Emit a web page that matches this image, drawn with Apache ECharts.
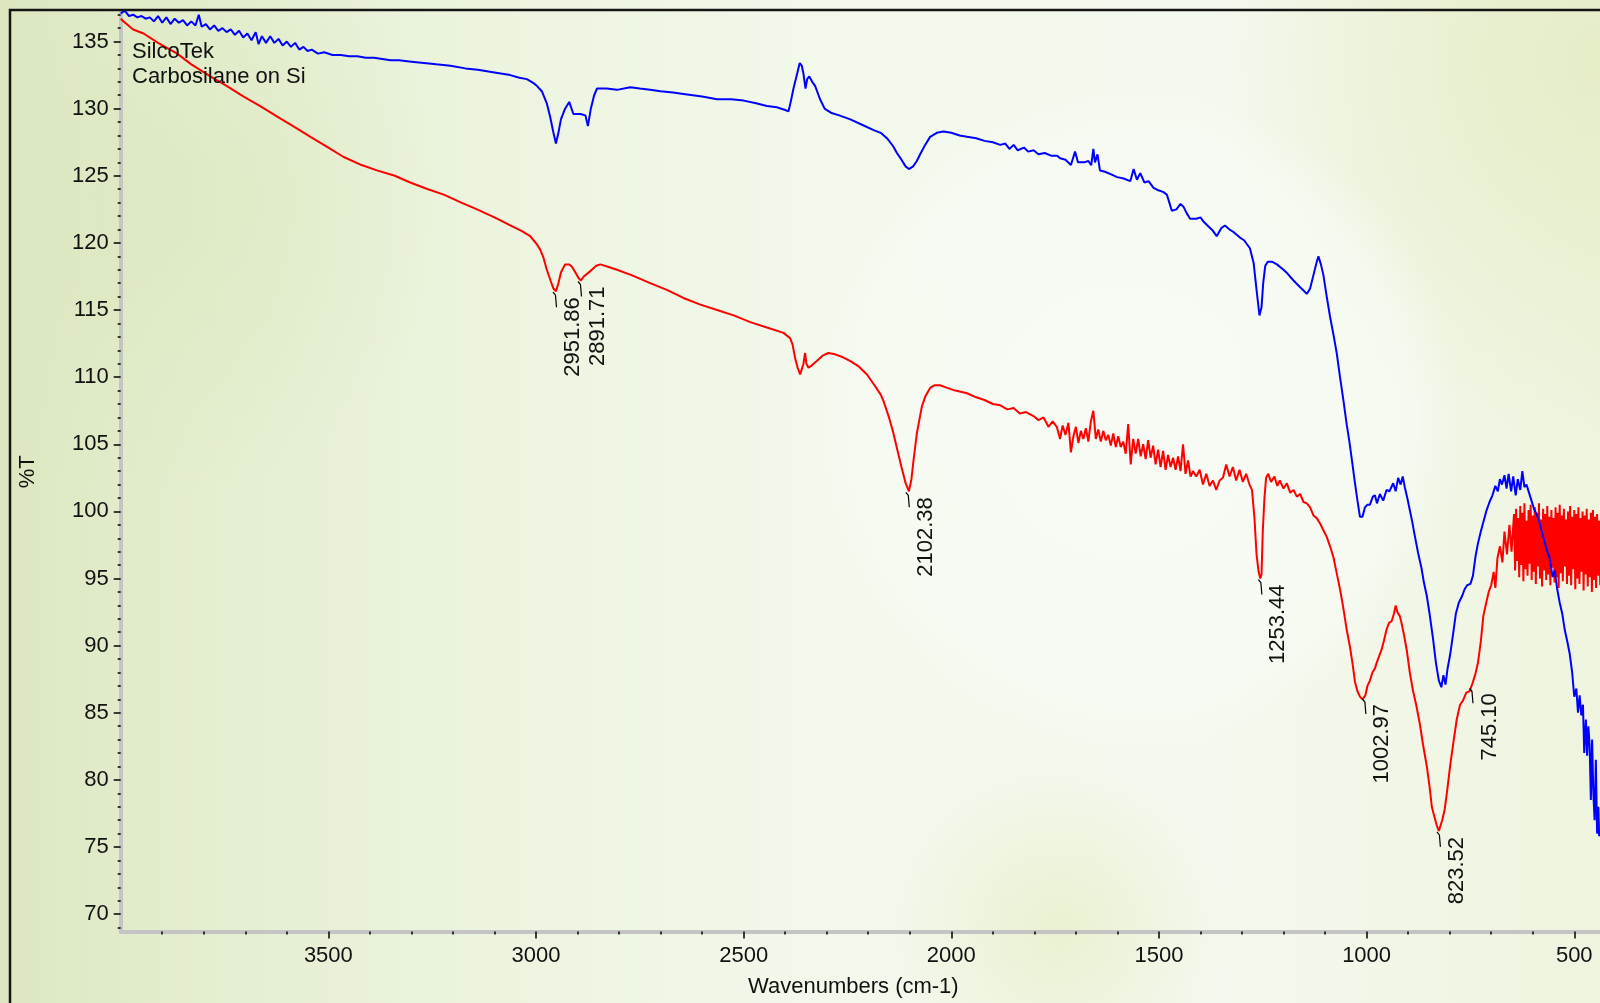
<!DOCTYPE html>
<html>
<head>
<meta charset="utf-8">
<script src="https://cdn.jsdelivr.net/npm/echarts@6/dist/echarts.min.js"></script>
<style>
html,body{margin:0;padding:0;background:#e6eed4;}
#chart{width:1600px;height:1003px;}
</style>
</head>
<body>
<div id="chart"></div>
<script>
// ---------- DATA ----------
const xAxisTitle = 'Wavenumbers (cm-1)';
const yAxisTitle = '%T';
const noteLines = ['SilcoTek', 'Carbosilane on Si'];
const xTickLabels = [500, 1000, 1500, 2000, 2500, 3000, 3500];
const yTickLabels = [70, 75, 80, 85, 90, 95, 100, 105, 110, 115, 120, 125, 130, 135];

// Blue spectrum
const blueWn = [4000,3990,3980,3970,3960,3950,3940,3930,3920,3910,3900,3890,3880,3870,3860,3850,3840,3830,3820,3812,3805,3795,3785,3775,3765,3755,3745,3735,3725,3715,3705,3695,3685,3675,3668,3660,3650,3640,3630,3620,3610,3600,3590,3580,3570,3560,3550,3540,3525,3510,3490,3470,3450,3430,3410,3390,3370,3350,3330,3300,3270,3240,3206,3170,3140,3100,3062,3040,3022,3006,2998,2986,2974,2966,2958,2952,2946,2940,2930,2920,2910,2893,2881,2875,2868,2860,2853,2830,2805,2773,2750,2725,2700,2670,2645,2600,2564,2530,2500,2470,2444,2420,2400,2392,2386,2380,2372,2365,2360,2356,2351,2347,2342,2335,2328,2316,2305,2290,2270,2243,2215,2187,2170,2155,2140,2131,2120,2110,2102,2092,2083,2075,2063,2051,2035,2019,2000,1980,1962,1940,1920,1900,1882,1870,1860,1850,1840,1825,1815,1802,1790,1775,1760,1745,1738,1725,1712,1702,1695,1680,1670,1663,1658,1654,1648,1642,1630,1615,1601,1585,1569,1561,1553,1545,1535,1525,1513,1500,1490,1481,1475,1469,1458,1448,1441,1433,1425,1410,1400,1393,1380,1370,1361,1350,1341,1330,1320,1305,1295,1281,1272,1265,1258,1253,1249,1244,1238,1228,1216,1200,1190,1176,1160,1150,1144,1136,1128,1120,1116,1110,1104,1096,1088,1080,1072,1064,1056,1048,1041,1034,1028,1022,1016,1010,1004,998,992,985,980,975,968,960,952,945,936,930,924,918,913,908,902,896,890,884,876,868,862,855,848,840,833,826,820,815,810,805,799,792,785,778,770,764,758,750,744,738,732,725,718,711,704,697,690,684,679,674,668,663,658,652,647,641,636,630,625,620,615,609,603,597,591,585,579,572,566,559,552,547,541,535,529,523,516,511,505,500,495,491,487,483,479,476,472,469,466,463,460,457,454,451,448,445,442,440];
const blueT = [137.1,137.3,136.9,137.0,136.8,136.9,136.7,136.8,136.5,136.9,136.4,136.8,136.3,136.7,136.4,136.6,136.2,136.5,136.2,137.0,136.1,136.3,135.9,136.2,135.8,136.0,135.7,135.9,135.5,135.8,135.3,135.6,135.1,135.7,134.8,135.4,134.9,135.4,134.9,135.2,134.7,135.0,134.6,134.9,134.4,134.6,134.3,134.4,134.1,134.2,134.0,134.0,133.9,133.9,133.8,133.8,133.7,133.6,133.6,133.5,133.4,133.3,133.2,133.0,132.9,132.7,132.5,132.3,132.2,131.9,131.7,131.3,130.4,129.4,128.2,127.4,128.2,129.2,130.0,130.5,129.6,129.6,129.5,128.7,130.0,131.0,131.5,131.5,131.4,131.6,131.5,131.4,131.3,131.2,131.1,130.9,130.7,130.7,130.6,130.4,130.2,130.1,129.9,129.8,130.6,131.5,132.5,133.4,133.2,132.6,131.5,132.2,132.4,132.0,131.7,130.7,130.0,129.7,129.5,129.2,128.8,128.4,128.2,127.8,127.2,126.7,126.2,125.7,125.5,125.7,126.1,126.6,127.3,127.9,128.2,128.3,128.2,128.0,127.9,127.8,127.6,127.5,127.3,127.4,127.0,127.3,126.9,127.1,126.8,126.9,126.6,126.7,126.5,126.5,126.3,126.2,125.8,126.8,126.0,126.0,126.1,125.8,127.0,126.0,126.6,125.4,125.3,125.1,124.9,124.8,124.6,125.5,124.7,125.2,124.5,124.6,124.1,123.9,123.8,123.6,123.0,122.4,122.5,122.9,122.7,122.2,121.8,121.8,121.9,121.6,121.2,120.9,120.5,121.1,121.3,121.0,120.8,120.4,120.2,119.6,118.5,116.5,114.6,115.2,117.0,118.3,118.6,118.6,118.4,118.0,117.7,117.2,116.7,116.4,116.2,116.6,117.6,118.6,119.0,118.4,117.6,116.0,114.5,113.2,111.8,110.0,108.3,106.5,105.1,103.5,102.1,100.8,99.6,99.6,100.3,100.5,100.5,101.1,101.2,100.6,101.3,100.8,101.6,101.5,102.1,101.5,102.5,102.0,102.6,101.8,101.0,100.1,99.2,98.2,96.9,95.8,94.7,93.7,92.3,90.5,88.7,87.4,86.9,87.8,87.1,88.3,89.3,90.8,92.4,93.2,93.7,94.2,94.5,94.6,95.2,96.6,97.6,98.5,99.3,100.1,100.7,101.2,101.9,101.5,102.4,102.0,102.7,101.7,102.8,101.5,102.6,101.2,102.4,101.6,103.0,101.8,102.0,101.4,100.8,100.2,99.8,99.3,98.6,97.8,97.1,96.5,95.1,95.6,94.2,93.2,92.4,91.2,90.2,89.4,88.0,86.2,86.8,85.0,86.3,84.8,85.6,82.0,84.5,81.8,84.0,82.6,78.5,83.0,79.0,77.0,81.5,76.0,78.0,75.8];

// Red spectrum (4000 -> 651)
const redWn = [4000,3993,3970,3945,3910,3864,3830,3784,3745,3704,3665,3623,3580,3543,3500,3463,3420,3383,3340,3303,3260,3222,3180,3142,3100,3062,3035,3014,2998,2990,2982,2974,2965,2958,2952,2946,2940,2930,2920,2913,2905,2898,2892,2885,2869,2855,2845,2825,2805,2770,2725,2685,2645,2604,2564,2524,2484,2444,2404,2388,2382,2376,2370,2364,2360,2356,2352,2349,2344,2335,2324,2310,2296,2280,2262,2243,2223,2203,2185,2170,2163,2150,2140,2130,2120,2110,2102,2096,2091,2083,2077,2071,2062,2051,2040,2027,2010,1990,1962,1940,1920,1900,1882,1865,1850,1835,1820,1802,1790,1778,1766,1756,1746,1738,1732,1725,1718,1712,1706,1700,1694,1688,1682,1676,1670,1664,1658,1652,1646,1640,1634,1628,1622,1616,1610,1604,1598,1592,1586,1580,1574,1568,1562,1556,1550,1544,1538,1532,1526,1520,1514,1508,1502,1496,1490,1484,1478,1472,1466,1460,1454,1448,1442,1436,1430,1424,1418,1410,1402,1394,1386,1378,1370,1362,1354,1346,1338,1330,1322,1314,1306,1298,1290,1282,1276,1270,1265,1260,1256,1253,1250,1246,1242,1237,1230,1222,1215,1209,1200,1192,1184,1176,1168,1160,1152,1144,1136,1128,1120,1112,1104,1096,1088,1080,1072,1064,1056,1048,1040,1034,1028,1022,1016,1010,1003,998,992,986,980,976,970,964,958,952,946,940,934,930,926,920,916,910,903,896,888,880,872,864,855,848,843,837,831,826,823,818,812,806,799,791,783,775,768,760,752,745,738,732,725,719,712,706,700,694,690,685,679,673,668,662,656,651];
const redT = [136.7,136.5,135.9,135.6,134.9,134.1,133.3,132.4,131.7,130.9,130.2,129.4,128.6,127.9,127.1,126.4,125.8,125.4,125.0,124.5,124.0,123.6,123.0,122.5,121.9,121.3,120.9,120.5,119.9,119.5,118.9,118.0,117.2,116.6,116.4,117.0,117.8,118.4,118.4,118.2,117.8,117.4,117.2,117.5,117.9,118.3,118.4,118.2,118.0,117.6,117.0,116.5,115.9,115.4,115.0,114.6,114.1,113.7,113.3,112.9,112.4,111.4,110.7,110.2,110.6,111.0,111.8,111.0,110.7,110.9,111.2,111.6,111.8,111.7,111.5,111.2,110.8,110.2,109.4,108.7,108.2,107.0,105.9,104.6,103.3,102.1,101.5,102.4,103.8,105.8,106.8,107.8,108.6,109.2,109.4,109.4,109.2,109.0,108.8,108.5,108.3,108.0,107.9,107.6,107.7,107.3,107.4,107.1,106.8,107.0,106.3,106.7,106.3,105.4,106.4,105.7,106.6,104.4,105.6,106.3,105.1,106.0,105.4,106.2,105.2,106.7,107.5,105.4,106.1,105.2,106.0,105.3,105.7,104.9,105.8,104.8,105.6,104.8,105.2,104.3,106.5,103.5,105.4,104.3,105.4,104.1,105.0,103.9,105.3,104.0,104.9,103.5,104.6,103.3,104.5,103.1,104.2,103.3,104.0,103.1,104.1,103.0,105.0,102.8,103.8,102.6,103.0,102.6,103.1,102.0,102.8,101.9,102.3,101.6,102.3,102.5,103.5,102.6,103.3,102.3,103.1,102.2,102.8,102.0,101.6,99.5,96.8,95.5,95.0,95.3,98.5,101.0,102.5,102.8,102.2,102.6,101.9,102.3,101.7,102.1,101.4,101.6,101.1,101.3,100.7,100.6,100.3,99.7,99.5,99.1,98.6,98.1,97.4,96.6,95.4,94.2,92.8,91.2,89.9,88.7,87.3,86.6,86.2,86.0,86.3,87.0,87.4,88.0,88.3,88.7,89.2,89.7,90.4,91.2,91.7,91.8,92.4,93.0,92.5,92.2,91.7,90.8,89.6,88.0,86.6,85.5,84.2,82.6,81.0,79.4,78.0,77.3,76.6,76.2,76.3,77.0,77.8,79.2,81.0,82.8,84.5,85.6,85.9,86.5,86.6,87.2,87.9,88.7,90.3,92.2,93.2,94.0,94.5,95.5,94.3,96.5,97.4,96.2,98.5,96.8,99.0,97.0];
// Red spectrum, dense noisy band (645 -> 437.5)
const redBandWn = [645,642.5,640,637.5,635,632.5,630,627.5,625,622.5,620,617.5,615,612.5,610,607.5,605,602.5,600,597.5,595,592.5,590,587.5,585,582.5,580,577.5,575,572.5,570,567.5,565,562.5,560,557.5,555,552.5,550,547.5,545,542.5,540,537.5,535,532.5,530,527.5,525,522.5,520,517.5,515,512.5,510,507.5,505,502.5,500,497.5,495,492.5,490,487.5,485,482.5,480,477.5,475,472.5,470,467.5,465,462.5,460,457.5,455,452.5,450,447.5,445,442.5,440,437.5];
const redBandT = [99.8,95.6,100.2,96.3,99.5,95.1,100.4,96.0,99.9,94.8,100.6,95.7,99.3,95.2,100.1,96.1,100.5,94.9,99.7,95.5,100.3,94.6,99.9,95.9,100.6,95.0,99.4,94.4,100.2,95.6,99.8,94.9,100.4,95.3,99.6,94.5,100.1,95.8,99.5,94.7,100.3,95.1,99.9,94.3,100.5,95.4,99.7,94.8,100.2,95.9,99.4,94.6,100.0,95.2,100.4,94.5,99.6,95.7,100.1,94.2,99.8,95.0,100.3,94.6,99.5,95.5,100.0,94.1,99.7,95.3,100.2,94.4,99.4,95.1,99.9,94.0,100.1,94.9,99.6,94.3,99.8,95.2,99.3,94.5];

// Annotated peaks on the red spectrum
const peakLabels = ['2951.86', '2891.71', '2102.38', '1253.44', '1002.97', '823.52', '745.10'];
const peakWn = [2951.86, 2891.71, 2102.38, 1253.44, 1002.97, 823.52, 745.10];
const peakT = [116.4, 117.2, 101.5, 95.0, 86.1, 76.2, 86.9];

// ---------- CHART ----------
const FONT = '"Liberation Sans", Arial, Helvetica, sans-serif';
const zip = (a, b) => a.map((v, i) => [v, b[i]]);
const xMinor = []; for (let v = 500; v <= 3900; v += 100) xMinor.push(v);
const yMinor = []; for (let v = 69; v <= 137; v += 1) yMinor.push(v);

const chart = echarts.init(document.getElementById('chart'), null, {renderer: 'canvas'});
const X_MIN = 438, X_MAX = 4000, Y_MIN = 68.7, Y_MAX = 137.2;

const axisBandColor = '#c4c4c4';
const xCommon = {type: 'value', inverse: true, min: X_MIN, max: X_MAX, splitLine: {show: false}};
const yCommon = {type: 'value', min: Y_MIN, max: Y_MAX, splitLine: {show: false}};

chart.setOption({
  animation: false,
  backgroundColor: '#e8efd6',
  textStyle: {fontFamily: FONT},
  graphic: [
    {type: 'rect', z: -100, silent: true, shape: {x: 0, y: 0, width: 1600, height: 1003},
     style: {fill: new echarts.graphic.LinearGradient(0, 0, 1, 0, [
       {offset: 0, color: '#dce7c1'}, {offset: 0.12, color: '#e4eecf'}, {offset: 0.3, color: '#ecf4df'},
       {offset: 0.5, color: '#f2f8ea'}, {offset: 0.75, color: '#f4f9ef'}, {offset: 1, color: '#eef4de'}])}},
    {type: 'circle', z: -99, silent: true, shape: {cx: 1600, cy: 60, r: 380},
     style: {fill: new echarts.graphic.RadialGradient(0.5, 0.5, 0.5, [
       {offset: 0, color: 'rgba(228,236,196,0.9)'}, {offset: 1, color: 'rgba(228,236,196,0)'}])}},
    {type: 'circle', z: -99, silent: true, shape: {cx: 1130, cy: 420, r: 330},
     style: {fill: new echarts.graphic.RadialGradient(0.5, 0.5, 0.5, [
       {offset: 0, color: 'rgba(248,251,245,0.9)'}, {offset: 0.85, color: 'rgba(248,251,245,0.6)'}, {offset: 1, color: 'rgba(248,251,245,0)'}])}},
    {type: 'circle', z: -99, silent: true, shape: {cx: 1060, cy: 930, r: 170},
     style: {fill: new echarts.graphic.RadialGradient(0.5, 0.5, 0.5, [
       {offset: 0, color: 'rgba(232,240,206,0.9)'}, {offset: 1, color: 'rgba(232,240,206,0)'}])}},
    {type: 'circle', z: -99, silent: true, shape: {cx: 150, cy: 200, r: 300},
     style: {fill: new echarts.graphic.RadialGradient(0.5, 0.5, 0.5, [
       {offset: 0, color: 'rgba(220,232,192,0.8)'}, {offset: 1, color: 'rgba(220,232,192,0)'}])}},
    {type: 'polyline', z: 100, silent: true, shape: {points: [[10, 1003], [10, 10], [1600, 10]]},
     style: {stroke: '#151515', lineWidth: 2.5, fill: null}},
    {type: 'text', z: 50, silent: true, x: 132, y: 39,
     style: {text: noteLines.join('\n'), font: '22px ' + FONT, fill: '#111', lineHeight: 25}}
  ],
  grid: {left: 120.7, right: 0, top: 12, bottom: 71.4, containLabel: false, outerBoundsMode: 'none'},
  xAxis: [
    Object.assign({}, xCommon, {
      position: 'bottom',
      axisLine: {show: true, onZero: false, lineStyle: {color: axisBandColor, width: 4}},
      axisTick: {show: true, customValues: xTickLabels, length: 7, lineStyle: {color: '#000', width: 1.5}},
      axisLabel: {show: true, customValues: xTickLabels, fontSize: 22, color: '#111', margin: 13, fontFamily: FONT,
                  formatter: v => String(v)},
      name: xAxisTitle, nameLocation: 'middle', nameGap: 44,
      nameTextStyle: {fontSize: 22, color: '#111', fontFamily: FONT, padding: [0, 14, 0, 0]}
    }),
    Object.assign({}, xCommon, {
      position: 'bottom',
      axisLine: {show: false, onZero: false},
      axisTick: {show: true, customValues: xMinor, length: 3, lineStyle: {color: '#000', width: 1.5}},
      axisLabel: {show: false}
    })
  ],
  yAxis: [
    Object.assign({}, yCommon, {
      position: 'left',
      axisLine: {show: true, onZero: false, lineStyle: {color: axisBandColor, width: 4}},
      axisTick: {show: true, customValues: yTickLabels, length: 7, lineStyle: {color: '#000', width: 1.5}},
      axisLabel: {show: true, customValues: yTickLabels, fontSize: 22, color: '#111', margin: 12, fontFamily: FONT,
                  formatter: v => String(v)},
      name: yAxisTitle, nameLocation: 'middle', nameGap: 82, nameRotate: 90,
      nameTextStyle: {fontSize: 22, color: '#111', fontFamily: FONT}
    }),
    Object.assign({}, yCommon, {
      position: 'left',
      axisLine: {show: false, onZero: false},
      axisTick: {show: true, customValues: yMinor, length: 3, lineStyle: {color: '#000', width: 1.5}},
      axisLabel: {show: false}
    })
  ],
  series: [
    {type: 'line', name: 'red', xAxisIndex: 0, yAxisIndex: 0,
     data: zip(redWn.concat(redBandWn), redT.concat(redBandT)),
     showSymbol: false, symbol: 'none', silent: true, z: 3,
     lineStyle: {color: '#ff0000', width: 2}},
    {type: 'line', name: 'blue', xAxisIndex: 0, yAxisIndex: 0, data: zip(blueWn, blueT),
     showSymbol: false, symbol: 'none', silent: true, z: 4,
     lineStyle: {color: '#0000ff', width: 2}},
    {type: 'custom', name: 'peaks', xAxisIndex: 0, yAxisIndex: 0, z: 6, silent: true,
     data: zip(peakWn, peakT),
     renderItem: function (params, api) {
       const p = api.coord([api.value(0), api.value(1)]);
       return {
         type: 'group',
         children: [
           {type: 'polyline', shape: {points: [[p[0] - 3, p[1] + 1], [p[0] - 0.5, p[1] + 4], [p[0] + 0.5, p[1] + 16]]},
            style: {stroke: '#000', lineWidth: 1.2, fill: null}},
           {type: 'text', x: p[0] + 17, y: p[1] + 6, rotation: Math.PI / 2,
            style: {text: peakLabels[params.dataIndex], align: 'right', verticalAlign: 'middle',
                    font: '22px ' + FONT, fill: '#111'}}
         ]
       };
     }}
  ]
});
</script>
</body>
</html>
